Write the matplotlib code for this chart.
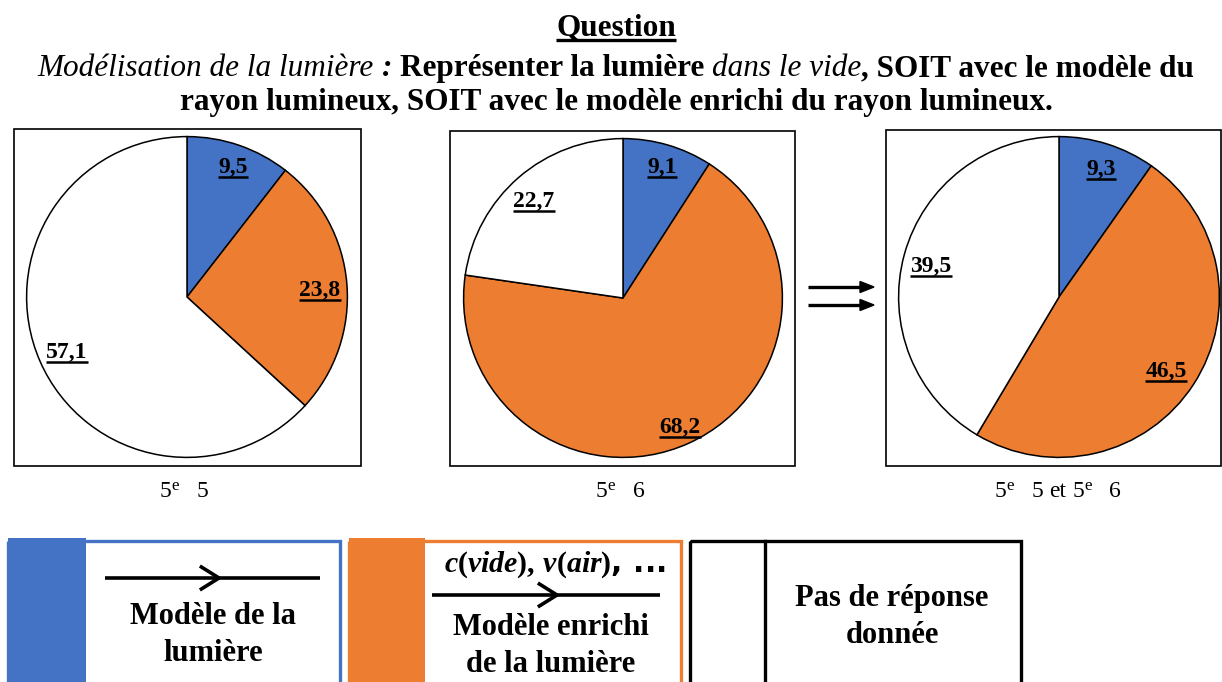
#!/usr/bin/env python3

import matplotlib
matplotlib.use("Agg")
import matplotlib.pyplot as plt
from matplotlib.font_manager import FontProperties
from matplotlib.patches import Rectangle, Polygon


# Réponses à la question (en %), dans l'ordre : modèle, modèle enrichi, pas de réponse
categories = ["Modèle de la lumière", "Modèle enrichi de la lumière", "Pas de réponse donnée"]
parts_5e5 = [9.5, 23.8, 57.1]
parts_5e6 = [9.1, 68.2, 22.7]
parts_total = [9.3, 46.5, 39.5]
classes = ["5e 5", "5e 6", "5e 5 et 5e 6"]

W, H = 1222, 682
SERIF = "Liberation Serif"
BLUE = "#4472C4"
ORANGE = "#ED7D31"
colors = [BLUE, ORANGE, "white"]

plt.rcParams["mathtext.fontset"] = "custom"
plt.rcParams["mathtext.rm"] = "Liberation Serif:bold"
plt.rcParams["mathtext.it"] = "Liberation Serif:italic:bold"

fig = plt.figure(figsize=(W / 100, H / 100), dpi=100)
fig.patch.set_facecolor("white")
rend = fig.canvas.get_renderer()

# axe "papier" en pixels, au-dessus des camemberts
cv = fig.add_axes([0, 0, 1, 1], zorder=5)
cv.set_xlim(0, W)
cv.set_ylim(H, 0)
cv.axis("off")
cv.patch.set_visible(False)


def px(pt):
    return pt * 100 / 72.0


def run_width(txt, prop):
    w1 = rend.get_text_width_height_descent("|" + txt + "|", prop, False)[0]
    w0 = rend.get_text_width_height_descent("||", prop, False)[0]
    return w1 - w0


def put_runs(runs, cx, base, size):
    # runs : (texte, graisse, style, échelle, montée)
    props, widths = [], []
    for txt, weight, style, scale, rise in runs:
        p = FontProperties(family=SERIF, weight=weight, style=style, size=size * scale)
        props.append(p)
        widths.append(run_width(txt, p))
    x = cx - sum(widths) / 2
    for (txt, weight, style, scale, rise), p, w in zip(runs, props, widths):
        lead = txt[:len(txt) - len(txt.lstrip())]
        dx = run_width(lead, p) if lead else 0
        cv.text(x + dx, base - px(size) * rise, txt.strip(), fontproperties=p,
                ha="left", va="baseline", color="black")
        x += w
    return cx - sum(widths) / 2, x


def underline(x0, x1, y, lw=2.0):
    cv.plot([x0, x1], [y, y], color="black", lw=lw, solid_capstyle="butt")


# ---------------- titre ----------------
x0, x1 = put_runs([("Question", "bold", "normal", 1, 0)], 616, 35, 22.5)
underline(x0, x1, 40, 2.4)
put_runs([("Modélisation de la lumière", "normal", "italic", 1, 0),
          (" :", "bold", "italic", 1, 0),
          (" Représenter la lumière ", "bold", "normal", 1, 0),
          ("dans le vide", "normal", "italic", 1, 0),
          (", SOIT avec le modèle du", "bold", "normal", 1, 0)], 616, 76, 22.5)
put_runs([("rayon lumineux, SOIT avec le modèle enrichi du rayon lumineux.",
           "bold", "normal", 1, 0)], 616, 110, 22.5)

# ---------------- camemberts ----------------
panels = [
    # (valeurs, centre, rayon, cadre, positions des étiquettes, x de la légende)
    (parts_5e5, (187, 297), 162, (14, 129, 361, 466), [(233, 173), (320, 296), (67, 358)], 184),
    (parts_5e6, (623, 298), 161, (450, 131, 795, 466), [(662, 173), (680, 433), (534, 207)], 620),
    (parts_total, (1059, 297), 162, (886, 130, 1221, 466), [(1101, 175), (1166, 377), (931, 272)], 1058),
]

for (vals, (cx, cy), r, box, lab_pos, cap_x), name in zip(panels, classes):
    ax = fig.add_axes([(cx - r) / W, 1 - (cy + r) / H, 2 * r / W, 2 * r / H], zorder=2)
    ax.pie(vals, colors=colors, startangle=90, counterclock=False, radius=1,
           wedgeprops=dict(edgecolor="black", linewidth=1.1))
    ax.set_xlim(-1.01, 1.01)
    ax.set_ylim(-1.01, 1.01)
    ax.set_aspect("equal")
    ax.axis("off")
    ax.patch.set_visible(False)

    bx0, by0, bx1, by1 = box
    cv.add_patch(Rectangle((bx0, by0), bx1 - bx0, by1 - by0, fill=False,
                           edgecolor="black", lw=1.2))

    for v, (lx, ly) in zip(vals, lab_pos):
        s = f"{v:.1f}".replace(".", ",")
        t = cv.text(lx, ly, s, family=SERIF, weight="bold", fontsize=17,
                    ha="center", va="baseline")
        bb = t.get_window_extent(rend).transformed(cv.transData.inverted())
        underline(bb.x0, bb.x1, ly + 3.5, 1.8)

    # légende sous le camembert, avec le "e" en exposant
    runs = []
    for i, word in enumerate(name.split(" ")):
        if word.endswith("e") and word[:-1].isdigit():
            runs.append(((" " if i else "") + word[:-1], "normal", "normal", 1, 0))
            runs.append(("e", "normal", "normal", 0.72, 0.3))
            runs.append(("  ", "normal", "normal", 1, 0))
        else:
            runs.append(((" " if i else "") + word, "normal", "normal", 1, 0))
    put_runs(runs, cap_x, 497, 17)

# flèche double entre les camemberts
for ya in (287, 305):
    cv.plot([808, 862], [ya, ya], color="black", lw=2.4, solid_capstyle="butt")
    cv.add_patch(Polygon([[860, ya - 5.5], [874, ya], [860, ya + 5.5]],
                         closed=True, color="black"))

# ---------------- légende ----------------
def chevron(xt, y, size=11):
    cv.plot([xt - size * 1.6, xt, xt - size * 1.6], [y - size, y, y + size],
            color="black", lw=2.6, solid_joinstyle="miter")


legend_boxes = [
    (8, 340, BLUE, 86),
    (349, 681, ORANGE, 425),
    (690, 1021, "black", 765),
]
for (lx0, lx1, col, split) in legend_boxes:
    if col == "black":
        cv.add_patch(Rectangle((lx0, 541), lx1 - lx0, 200, fill=False, edgecolor=col, lw=2.4))
        cv.plot([split, split], [541, H + 5], color="black", lw=2.4)
    else:
        cv.add_patch(Rectangle((lx0, 538), split - lx0, 200, facecolor=col, edgecolor="none"))
        cv.add_patch(Rectangle((lx0, 541), lx1 - lx0, 200, fill=False, edgecolor=col, lw=2.4))

# modèle de la lumière
cv.plot([105, 320], [578, 578], color="black", lw=2.6, solid_capstyle="butt")
chevron(219, 578)
cv.text(213, 624, "Modèle de la", family=SERIF, weight="bold", fontsize=22,
        ha="center", va="baseline")
cv.text(213, 661, "lumière", family=SERIF, weight="bold", fontsize=22,
        ha="center", va="baseline")

# modèle enrichi
cv.text(555, 572, r"$c(vide),\,v(air)$, ...", weight="bold", fontsize=21.5,
        ha="center", va="baseline")
cv.plot([432, 660], [595, 595], color="black", lw=2.6, solid_capstyle="butt")
chevron(557, 595)
cv.text(551, 635, "Modèle enrichi", family=SERIF, weight="bold", fontsize=22,
        ha="center", va="baseline")
cv.text(551, 672, "de la lumière", family=SERIF, weight="bold", fontsize=22,
        ha="center", va="baseline")

# pas de réponse
cv.text(892, 606, "Pas de réponse", family=SERIF, weight="bold", fontsize=22,
        ha="center", va="baseline")
cv.text(892, 643, "donnée", family=SERIF, weight="bold", fontsize=22,
        ha="center", va="baseline")

fig.savefig("out.png", dpi=100, facecolor="white")
